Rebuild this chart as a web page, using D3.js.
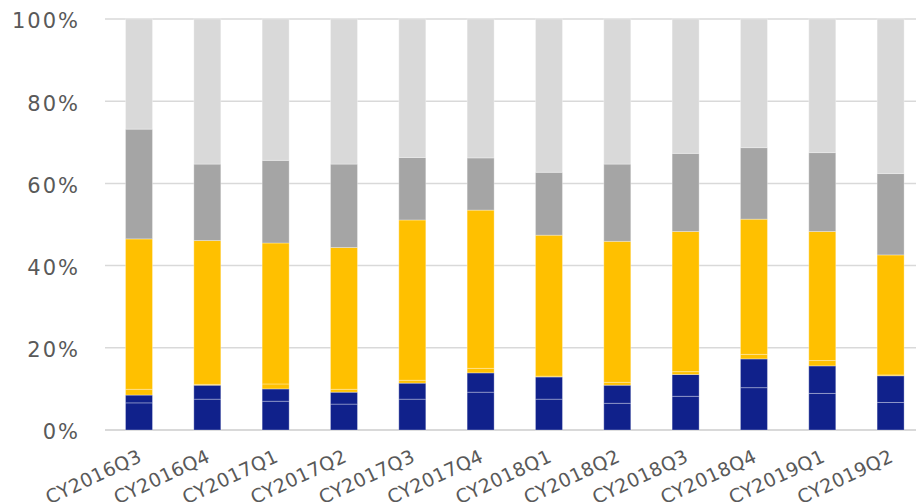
<!DOCTYPE html>
<html>
<head>
<meta charset="utf-8">
<script src="https://cdn.jsdelivr.net/npm/d3@7"></script>
<style>
  body { margin: 0; background: #fff; }
  svg { display: block; font-family: "DejaVu Sans", Verdana, sans-serif; }
</style>
</head>
<body>
<div id="chart"></div>
<script>
// Quarter labels
const quarters = ['CY2016Q3', 'CY2016Q4', 'CY2017Q1', 'CY2017Q2', 'CY2017Q3', 'CY2017Q4',
  'CY2018Q1', 'CY2018Q2', 'CY2018Q3', 'CY2018Q4', 'CY2019Q1', 'CY2019Q2'];

// Share of each segment (%), bottom to top
const blueA   = [6.6, 7.5, 7.0, 6.3, 7.5, 9.2, 7.5, 6.5, 8.2, 10.3, 8.9, 6.7];
const blueB   = [1.9, 3.4, 3.0, 2.9, 3.9, 4.7, 5.4, 4.4, 5.3, 7.0, 6.7, 6.5];
const yellowA = [1.4, 0.2, 1.2, 0.7, 0.7, 1.1, 0.2, 0.7, 0.7, 1.1, 1.3, 0.2];
const yellowB = [36.6, 35.0, 34.3, 34.5, 39.0, 38.5, 34.3, 34.3, 34.1, 32.9, 31.4, 29.2];
const darkGray  = [26.7, 18.6, 20.1, 20.3, 15.2, 12.7, 15.3, 18.8, 19.0, 17.4, 19.2, 19.8];
const lightGray = [26.8, 35.3, 34.4, 35.3, 33.7, 33.8, 37.3, 35.3, 32.7, 31.3, 32.5, 37.6];

const yTicks = [0, 0.2, 0.4, 0.6, 0.8, 1];

const seriesKeys = ['blueA', 'blueB', 'yellowA', 'yellowB', 'darkGray', 'lightGray'];
const seriesColors = ['#10218b', '#10218b', '#ffc000', '#ffc000', '#a5a5a5', '#d9d9d9'];

const rows = quarters.map((q, i) => ({
  quarter: q,
  blueA: blueA[i],
  blueB: blueB[i],
  yellowA: yellowA[i],
  yellowB: yellowB[i],
  darkGray: darkGray[i],
  lightGray: lightGray[i]
}));

const width = 916;
const height = 502;
const plot = { left: 105, right: 924.6, top: 19, bottom: 430 };

const svg = d3.select('#chart')
  .append('svg')
  .attr('width', width)
  .attr('height', height);

const x = d3.scaleBand()
  .domain(quarters)
  .range([plot.left, plot.right])
  .paddingInner(0.605)
  .paddingOuter(0.3);

const y = d3.scaleLinear()
  .domain([0, 1])
  .range([plot.bottom, plot.top]);

// Gridlines
svg.append('g')
  .selectAll('line')
  .data(yTicks)
  .enter()
  .append('line')
  .attr('x1', plot.left)
  .attr('x2', width)
  .attr('y1', d => y(d))
  .attr('y2', d => y(d))
  .attr('stroke', '#d9d9d9')
  .attr('stroke-width', d => d === 0 ? 2 : 1.5);

// Y axis labels
const yAxis = svg.append('g')
  .attr('transform', `translate(${plot.left - 25}, 0)`)
  .call(d3.axisLeft(y).tickValues(yTicks).tickFormat(d3.format('.0%')).tickSize(0).tickPadding(0));
yAxis.select('.domain').remove();
yAxis.selectAll('text')
  .attr('font-family', '"DejaVu Sans", Verdana, sans-serif')
  .attr('font-size', '21px')
  .attr('letter-spacing', '2px')
  .attr('fill', '#595959')
  .attr('dy', '0.42em');

// Stacked bars
const stack = d3.stack()
  .keys(seriesKeys)
  .offset(d3.stackOffsetExpand);
const layers = stack(rows);

svg.append('g')
  .selectAll('g')
  .data(layers)
  .enter()
  .append('g')
  .attr('fill', (d, i) => seriesColors[i])
  .selectAll('rect')
  .data(d => d)
  .enter()
  .append('rect')
  .attr('x', d => x(d.data.quarter))
  .attr('y', d => y(d[1]))
  .attr('width', x.bandwidth())
  .attr('height', d => y(d[0]) - y(d[1]))
  .attr('stroke', 'rgba(255,255,255,0.3)')
  .attr('stroke-width', 1);

// X axis labels, rotated
const xAxis = svg.append('g')
  .attr('transform', `translate(0, ${plot.bottom})`)
  .call(d3.axisBottom(x).tickSize(0).tickPadding(0));
xAxis.select('.domain').remove();
xAxis.selectAll('text')
  .attr('font-family', '"DejaVu Sans", Verdana, sans-serif')
  .attr('font-size', '19px')
  .attr('letter-spacing', '0.4px')
  .attr('fill', '#595959')
  .attr('text-anchor', 'end')
  .attr('dy', 0)
  .attr('y', 0)
  .attr('transform', 'translate(4, 31) rotate(-25)');
</script>
</body>
</html>
